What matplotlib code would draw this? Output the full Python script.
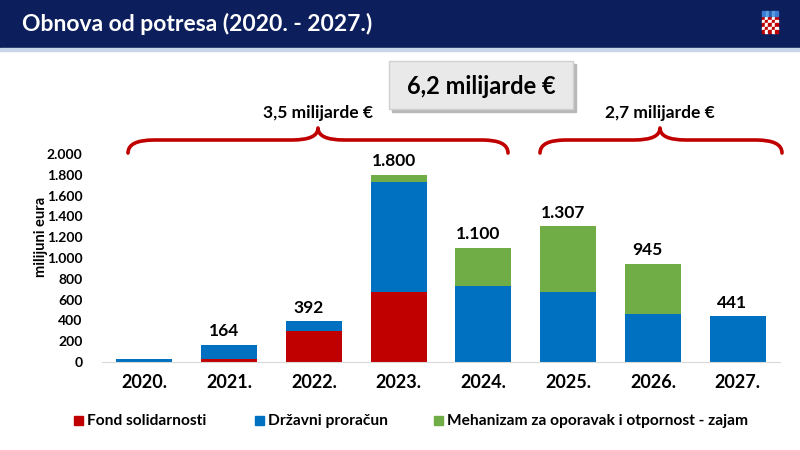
import numpy as np
import matplotlib
matplotlib.use('Agg')
import matplotlib.pyplot as plt
from matplotlib.path import Path
from matplotlib.patches import PathPatch, Rectangle

plt.rcParams['font.family'] = ['Lato', 'DejaVu Sans']

# ===== podaci (milijuni eura) =====
years = ['2020.', '2021.', '2022.', '2023.', '2024.', '2025.', '2026.', '2027.']
fond_solidarnosti = [0, 30, 300, 670, 0, 0, 0, 0]
drzavni_proracun = [25, 134, 92, 1060, 730, 670, 460, 441]
mehanizam = [0, 0, 0, 70, 370, 637, 485, 0]
totals = ['', '164', '392', '1.800', '1.100', '1.307', '945', '441']
y_ticks = [0, 200, 400, 600, 800, 1000, 1200, 1400, 1600, 1800, 2000]

C_RED = '#c00000'
C_BLUE = '#0070c0'
C_GREEN = '#70ad47'
C_NAVY = '#0c1f5c'

fig = plt.figure(figsize=(8, 4.5), dpi=100)

# ===== overlay u pikselima =====
ov = fig.add_axes([0, 0, 1, 1])
ov.set_xlim(0, 800)
ov.set_ylim(450, 0)
ov.axis('off')

ov.add_patch(Rectangle((0, 0), 800, 48, color=C_NAVY, zorder=1))
ov.add_patch(Rectangle((0, 48), 800, 3, color='#c9d6ea', zorder=1))
ov.text(22, 24, 'Obnova od potresa (2020. - 2027.)', color='white',
        fontsize=16.5, fontweight='bold', va='center', ha='left')

# grb
sx, sy, cw = 762, 17, 3.2
for r in range(5):
    for c in range(5):
        col = C_RED if (r + c) % 2 == 0 else 'white'
        ov.add_patch(Rectangle((sx + c * cw, sy + r * cw), cw, cw, color=col, zorder=3))
for c in range(5):
    ov.add_patch(Rectangle((sx + c * cw + 0.3, 11), cw - 0.6, 5,
                           color=['#3a7bd5', '#5aa0e0', '#2b5fb0', '#5aa0e0', '#3a7bd5'][c], zorder=3))

# kutija 6,2 milijarde
ov.add_patch(Rectangle((392, 64), 184, 48, color='#b8b8b8', zorder=2))
ov.add_patch(Rectangle((389, 61), 184, 48, facecolor='#e9e9e9', edgecolor='#d0d0d0', zorder=3))
ov.text(481, 86, '6,2 milijarde €', fontsize=17, fontweight='bold',
        ha='center', va='center', zorder=4)

def brace(x0, x1, xm, y_end=153, y_mid=140, y_tip=128, r=26):
    verts = [(x0, y_end), (x0, y_mid), (x0 + r, y_mid),
             (xm - r, y_mid), (xm, y_mid), (xm, y_tip),
             (xm, y_mid), (xm + r, y_mid),
             (x1 - r, y_mid), (x1, y_mid), (x1, y_end)]
    codes = [Path.MOVETO, Path.CURVE3, Path.CURVE3,
             Path.LINETO, Path.CURVE3, Path.CURVE3,
             Path.CURVE3, Path.CURVE3,
             Path.LINETO, Path.CURVE3, Path.CURVE3]
    ov.add_patch(PathPatch(Path(verts, codes), fill=False, edgecolor=C_RED,
                           lw=2.6, capstyle='round', joinstyle='round', zorder=3))

brace(128, 508, 318)
brace(540, 782, 660)
ov.text(318, 113, '3,5 milijarde €', fontsize=12.5, fontweight='bold', ha='center', va='center')
ov.text(660, 113, '2,7 milijarde €', fontsize=12.5, fontweight='bold', ha='center', va='center')

# legenda
leg = [(C_RED, 'Fond solidarnosti', 74), (C_BLUE, 'Državni proračun', 255),
       (C_GREEN, 'Mehanizam za oporavak i otpornost - zajam', 434)]
for col, lab, lx in leg:
    ov.add_patch(Rectangle((lx, 416), 9, 9, color=col))
    ov.text(lx + 13, 421, lab, fontsize=11.2, fontweight='bold', ha='left', va='center')

# ===== graf =====
ax = fig.add_axes([102 / 800, 88 / 450, 678 / 800, 208 / 450])
x = np.arange(len(years))
w = 0.66
fs = np.array(fond_solidarnosti)
dp = np.array(drzavni_proracun)
me = np.array(mehanizam)
ax.bar(x, fs, w, color=C_RED, zorder=2)
ax.bar(x, dp, w, bottom=fs, color=C_BLUE, zorder=2)
ax.bar(x, me, w, bottom=fs + dp, color=C_GREEN, zorder=2)

tops = fs + dp + me
for xi, t, lab in zip(x, tops, totals):
    if lab:
        ax.annotate(lab, (xi - 0.06, t), xytext=(0, 4), textcoords='offset points',
                    ha='center', va='bottom', fontsize=12.5, fontweight='bold',
                    annotation_clip=False)

ax.set_xlim(-0.5, 7.5)
ax.set_ylim(0, 2000)
ax.set_yticks(y_ticks)
ax.set_yticklabels([f'{v:,}'.replace(',', '.') for v in y_ticks],
                   fontsize=10, fontweight='bold')
ax.set_xticks(x)
ax.set_xticklabels(years, fontsize=13, fontweight='bold')
ax.tick_params(length=0)
ax.tick_params(axis='x', pad=9)
ax.tick_params(axis='y', pad=14)
for s in ['top', 'right', 'left']:
    ax.spines[s].set_visible(False)
ax.spines['bottom'].set_color('#d9d9d9')
ax.patch.set_alpha(0)
ax.set_ylabel('milijuni eura', fontsize=10.5, fontweight='bold')
ax.yaxis.set_label_coords(-0.08, 0.6)

fig.savefig('out.png', dpi=100)
